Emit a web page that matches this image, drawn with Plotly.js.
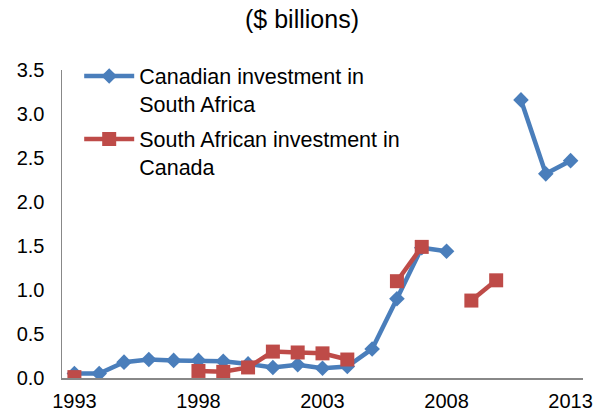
<!DOCTYPE html>
<html><head><meta charset="utf-8">
<script src="https://cdn.plot.ly/plotly-3.0.1.min.js"></script>
<style>body{margin:0;padding:0;}#chart{width:604px;height:413px;}</style>
</head><body><div id="chart"></div>
<script>
var years = [1993,1994,1995,1996,1997,1998,1999,2000,2001,2002,2003,2004,2005,2006,2007,2008,2009,2010,2011,2012,2013];
var canadianInSA = [0.05,0.05,0.18,0.21,0.20,0.20,0.19,0.16,0.12,0.15,0.11,0.13,0.33,0.90,1.48,1.44,null,null,3.16,2.32,2.47];
var saInCanada = [0.01,null,null,null,null,0.08,0.07,0.12,0.30,0.29,0.28,0.21,null,1.10,1.49,null,0.88,1.11,null,null,null];
var tickYears = [1993,1998,2003,2008,2013];
var yTicks = [0,0.5,1.0,1.5,2.0,2.5,3.0,3.5];

var traces = [
  {x: years, y: canadianInSA, name: 'Canadian investment in<br>South Africa', mode: 'lines+markers', legendgroup: 'a',
   connectgaps: false, line: {color: '#4a7ebb', width: 4.5}, marker: {symbol: 'diamond', size: 12, color: '#4a7ebb'}},
  {x: years, y: saInCanada, name: 'South African investment in<br>Canada', mode: 'lines+markers', legendgroup: 'b',
   connectgaps: false, line: {color: '#be4b48', width: 4.5}, marker: {symbol: 'square', size: 14, color: '#be4b48'}}
];
var layout = {
  width: 604, height: 413,
  margin: {l: 62, r: 21, t: 70, b: 35},
  paper_bgcolor: '#fff', plot_bgcolor: '#fff',
  font: {family: 'Liberation Sans, Arial, sans-serif', size: 20, color: '#000'},
  title: {text: '($ billions)', x: 0.5, xanchor: 'center', y: 0.975, yanchor: 'top', font: {size: 25}},
  showlegend: true,
  legend: {x: 0.033, y: 1.047, xanchor: 'left', yanchor: 'top', bgcolor: 'rgba(0,0,0,0)', font: {size: 21.5},
           traceorder: 'grouped', tracegroupgap: 4, valign: 'top', itemwidth: 50},
  xaxis: {range: [1992.5, 2013.5], tickvals: tickYears, ticktext: tickYears.map(String), showgrid: false, zeroline: false,
          showline: true, linecolor: '#888', linewidth: 1.5, ticks: '', tickfont: {size: 20}, ticklabelstandoff: 4},
  yaxis: {range: [0, 3.5], tickvals: yTicks, tickformat: '.1f', showgrid: false, zeroline: false,
          showline: true, linecolor: '#888', linewidth: 1.5, ticks: '', tickfont: {size: 20}, ticklabelstandoff: 12}
};
Plotly.newPlot('chart', traces, layout, {displayModeBar: false, staticPlot: true});
</script></body></html>
